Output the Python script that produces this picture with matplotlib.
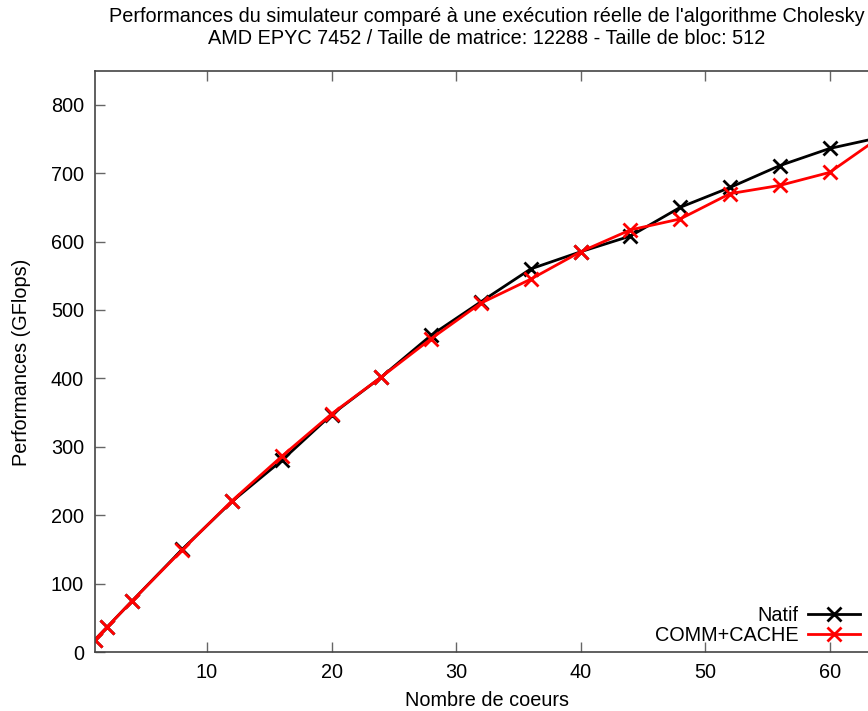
import matplotlib
matplotlib.use("Agg")
import matplotlib.pyplot as plt

plt.rcParams['font.family'] = ['Liberation Sans', 'DejaVu Sans']

cores = [1, 2, 4, 8, 12, 16, 20, 24, 28, 32, 36, 40, 44, 48, 52, 56, 60, 64]
natif = [18, 37, 75, 150, 220, 280, 347, 402, 463, 512, 560, 585, 608, 650, 679, 711, 736, 752]
comm_cache = [18, 37, 75, 149, 221, 286, 348, 402, 458, 510, 545, 585, 617, 633, 670, 682, 701, 752]
xticks = [10, 20, 30, 40, 50, 60]
yticks = [0, 100, 200, 300, 400, 500, 600, 700, 800]

FS = 14.3
W, H = 868, 711
fig = plt.figure(figsize=(W / 100, H / 100), dpi=100)
left, right, bottom, top = 95, 879.4, 652, 70.5
ax = fig.add_axes([left / W, 1 - bottom / H, (right - left) / W, (bottom - top) / H])

ax.plot(cores, natif, color='black', lw=2.0, marker='x', ms=10, mew=2.0, label='Natif')
ax.plot(cores, comm_cache, color='#ff0000', lw=2.0, marker='x', ms=10, mew=2.0, label='COMM+CACHE')

ax.set_xlim(1, 64)
ax.set_ylim(0, 850)
ax.set_xticks(xticks)
ax.set_yticks(yticks)
ax.tick_params(direction='in', length=7, width=1, color='#666666', labelsize=FS,
               top=True, right=True, pad=8)
for s in ax.spines.values():
    s.set_color('#444444')
    s.set_linewidth(1.2)

fig.text(487 / W, 1 - 701 / H, 'Nombre de coeurs', ha='center', va='center', fontsize=FS)
fig.text(22 / W, 1 - 362 / H, 'Performances (GFlops)', ha='center', va='center',
         rotation=90, fontsize=FS)
fig.text(487 / W, 1 - 17 / H, "Performances du simulateur comparé à une exécution réelle de l'algorithme Cholesky",
         ha='center', va='center', fontsize=FS)
fig.text(487 / W, 1 - 38 / H, "AMD EPYC 7452 / Taille de matrice: 12288 - Taille de bloc: 512",
         ha='center', va='center', fontsize=FS)

leg = ax.legend(loc='lower right', bbox_to_anchor=(860 / W, 1 - 645 / H),
                bbox_transform=fig.transFigure, frameon=False, markerfirst=False,
                fontsize=FS, handlelength=2.6, handletextpad=0.5, labelspacing=0.05,
                borderpad=0, borderaxespad=0)

fig.savefig('out.png', dpi=100)
